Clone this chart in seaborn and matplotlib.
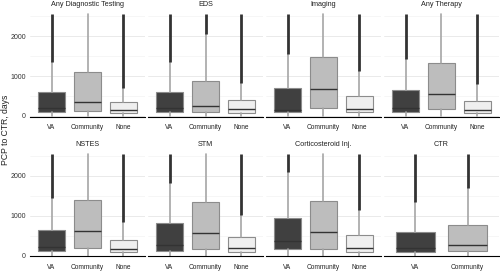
import pandas as pd
import numpy as np
import matplotlib.pyplot as plt
import seaborn as sns

# summary stats (days)
panels = (["Any Diagnostic Testing"] * 3 + ["EDS"] * 3 + ["Imaging"] * 3 + ["Any Therapy"] * 3
          + ["NSTES"] * 3 + ["STM"] * 3 + ["Corticosteroid Inj."] * 3 + ["CTR"] * 2)
groups = ["VA", "Community", "None"] * 7 + ["VA", "Community"]
q1 = [85, 110, 60, 85, 105, 60, 100, 190, 85, 100, 165, 65,
      105, 190, 90, 125, 165, 90, 155, 165, 100, 90, 125]
med = [210, 345, 150, 210, 250, 165, 155, 665, 185, 190, 540, 160,
       210, 610, 165, 255, 560, 190, 365, 585, 190, 190, 275]
q3 = [595, 1110, 345, 595, 885, 400, 690, 1485, 510, 640, 1340, 365,
      640, 1400, 400, 810, 1350, 475, 940, 1360, 525, 600, 775]
whis_lo = [0] * 23
whis_hi = [1360, 2560, 710, 1360, 2050, 815, 1565, 2560, 1125, 1440, 2560, 800,
           1440, 2560, 840, 1830, 2560, 1025, 2110, 2560, 1135, 1340, 1690]
out_max = [2560] * 23

panel_order = ["Any Diagnostic Testing", "EDS", "Imaging", "Any Therapy",
               "NSTES", "STM", "Corticosteroid Inj.", "CTR"]
fills = {"VA": "#404040", "Community": "#bdbdbd", "None": "#efefef"}

df = pd.DataFrame({"panel": panels, "group": groups, "q1": q1, "med": med, "q3": q3,
                   "lo": whis_lo, "hi": whis_hi, "omax": out_max})

sns.set_style("white")
plt.rcParams["font.family"] = ["Liberation Sans", "DejaVu Sans"]


def draw_boxes(data, **kws):
    ax = plt.gca()
    stats = [dict(q1=r.q1, med=r.med, q3=r.q3, whislo=r.lo, whishi=r.hi, fliers=[], label=r.group)
             for r in data.itertuples()]
    pos = np.arange(len(stats))
    bp = ax.bxp(stats, positions=pos, widths=0.75, patch_artist=True, showcaps=False,
                boxprops=dict(edgecolor="#8c8c8c", linewidth=0.8),
                whiskerprops=dict(color="#a6a6a6", linewidth=1.2),
                medianprops=dict(color="#333333", linewidth=1.0))
    for patch, g in zip(bp["boxes"], data["group"]):
        patch.set_facecolor(fills[g])
    # outliers: very dense, they look like a solid dark stroke
    hi = data["hi"].to_numpy()
    om = data["omax"].to_numpy()
    m = om > hi
    ax.vlines(pos[m], hi[m], om[m], color="#333333", linewidth=2.0, zorder=3)
    ax.set_xlim(-0.6, len(stats) - 0.4)


g = sns.FacetGrid(df, col="panel", col_order=panel_order, col_wrap=4,
                  sharex=False, sharey=True, height=1.3, aspect=1.0)
g.map_dataframe(draw_boxes)
g.set_titles("{col_name}", size=5.2, pad=3, color="#222222")
g.set_axis_labels("", "")

for ax in g.axes.flat:
    ax.set_ylim(-20, 2660)
    ax.set_yticks([0, 1000, 2000])
    ax.set_yticks([500, 1500, 2500], minor=True)
    ax.grid(axis="y", which="major", color="#e6e6e6", linewidth=0.6)
    ax.grid(axis="y", which="minor", color="#f0f0f0", linewidth=0.4)
    ax.grid(axis="x", visible=False)
    ax.set_axisbelow(True)
    for s in ["top", "right", "left"]:
        ax.spines[s].set_visible(False)
    ax.spines["bottom"].set_color("black")
    ax.spines["bottom"].set_linewidth(0.8)
    ax.tick_params(axis="x", length=2.5, width=0.6, color="black", labelsize=4.7,
                   labelcolor="#222222", pad=3)
    ax.tick_params(axis="y", which="both", length=0, labelsize=5, labelcolor="#333333", pad=3)

fig = g.figure
fig.set_size_inches(5, 2.71)
fig.subplots_adjust(left=0.06, right=0.998, top=0.963, bottom=0.054, wspace=0.026, hspace=0.31)
fig.text(0.011, 0.52, "PCP to CTR, days", rotation=90, va="center", ha="center",
         fontsize=6.2, color="#222222")
fig.savefig("out.png", dpi=100)
